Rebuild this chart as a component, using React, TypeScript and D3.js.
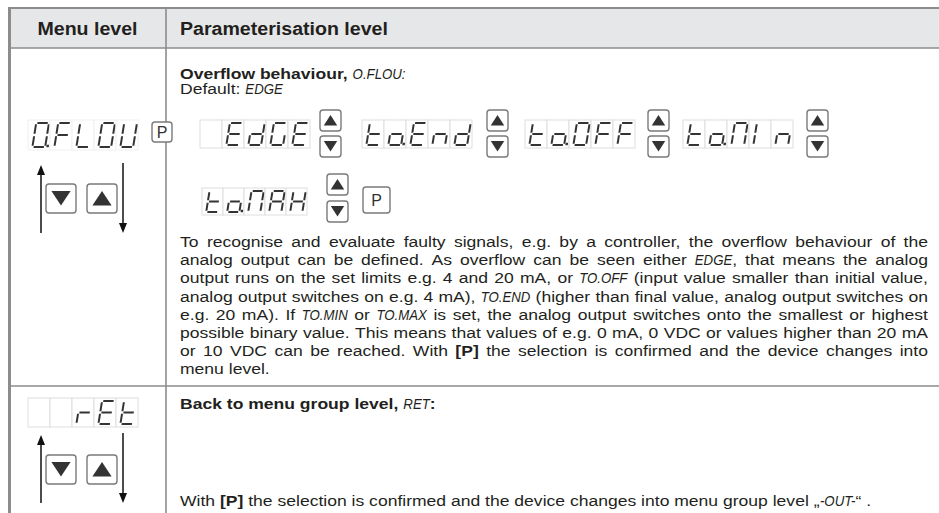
import React, { useEffect, useRef } from "react";
import * as d3 from "d3";

const WIDTH = 939;
const HEIGHT = 513;
// the scanned page is stretched sideways a little, text follows that
const SX = 1.17;
const HEADER_SX = 1.12;

const FONT = "'Liberation Sans', Arial, Helvetica, sans-serif";
const INK = "#231f20";
const RULE = "#8c8c8c";
const SEG_INK = "#333";

const headerLabels = ["Menu level", "Parameterisation level"];

// seven segment displays, one entry per digit cell ("." = decimal point)
const menuOverflow = ["0.", "F", "L", "0", "U"];
const menuReturn = ["", "", "r", "E", "t"];
const optionsRow1 = [
  ["", "E", "d", "G", "E"],
  ["t", "o.", "E", "n", "d"],
  ["t", "o.", "0", "F", "F"],
  ["t", "o.", "M", "I", "n"],
];
const optionsRow2 = [["t", "o.", "M", "A", "H"]];

// ^bold^  ~display font~
const overflowTitle = "^Overflow behaviour,^ ~O.FLOU:~";
const overflowDefault = "Default: ~EDGE~";
const overflowText = [
  "To recognise and evaluate faulty signals, e.g. by a controller, the overflow behaviour of the",
  "analog output can be defined. As overflow can be seen either ~EDGE~, that means the analog",
  "output runs on the set limits e.g. 4 and 20 mA, or ~TO.OFF~ (input value smaller than initial value,",
  "analog output switches on e.g. 4 mA), ~TO.END~ (higher than final value, analog output switches on",
  "e.g. 20 mA). If ~TO.MIN~ or ~TO.MAX~ is set, the analog output switches onto the smallest or highest",
  "possible binary value. This means that values of e.g. 0 mA, 0 VDC or values higher than 20 mA",
  "or 10 VDC can be reached. With ^[P]^ the selection is confirmed and the device changes into",
  "menu level.",
];
const returnTitle = "^Back to menu group level,^ ~RET~^:^";
const returnText = "With ^[P]^ the selection is confirmed and the device changes into menu group level \u201E~-OUT-~\u201C .";

const SEGMENTS: Record<string, string> = {
  "0": "abcdef", F: "aefg", L: "def", U: "bcdef", E: "adefg", d: "bcdeg",
  G: "acdef", t: "defg", o: "cdeg", n: "ceg", M: "abcef", I: "ef",
  A: "abcefg", H: "bcefg", r: "eg",
};

type Style = "reg" | "bold" | "din";
type Run = { text: string; style: Style };

const STYLES: Record<Style, { size: number; weight: string; italic: boolean; sx: number }> = {
  reg: { size: 15, weight: "normal", italic: false, sx: 1 },
  bold: { size: 15, weight: "bold", italic: false, sx: 1 },
  din: { size: 14.5, weight: "normal", italic: true, sx: 0.78 },
};

function parseRuns(s: string): Run[] {
  const runs: Run[] = [];
  let style: Style = "reg";
  let buf = "";
  for (const ch of s) {
    if (ch === "^" || ch === "~") {
      if (buf) runs.push({ text: buf, style });
      buf = "";
      const target: Style = ch === "^" ? "bold" : "din";
      style = style === target ? "reg" : target;
    } else buf += ch;
  }
  if (buf) runs.push({ text: buf, style });
  return runs;
}

const ctx = typeof document !== "undefined" ? document.createElement("canvas").getContext("2d") : null;
function measure(r: Run) {
  const s = STYLES[r.style];
  if (!ctx) return r.text.length * 7 * s.sx;
  ctx.font = `${s.italic ? "italic " : ""}${s.weight === "bold" ? "bold " : ""}${s.size}px ${FONT}`;
  return ctx.measureText(r.text).width * s.sx;
}

type G = d3.Selection<SVGGElement, unknown, null, undefined>;

// draws runs one after another from x0 in a (scaled) line group, returns the width
function drawRuns(lg: G, runs: Run[], x0: number) {
  let cx = x0;
  runs.forEach(r => {
    const s = STYLES[r.style];
    lg.append("text")
      .attr("transform", `translate(${cx},0) scale(${s.sx},1)`)
      .attr("font-family", FONT)
      .attr("font-size", s.size)
      .attr("font-weight", s.weight)
      .attr("font-style", s.italic ? "italic" : "normal")
      .attr("fill", INK)
      .style("white-space", "pre")
      .text(r.text);
    cx += measure(r);
  });
  return cx - x0;
}

function drawRich(g: G, s: string, x: number, y: number) {
  const lg = g.append("g").attr("transform", `translate(${x},${y}) scale(${SX},1)`);
  drawRuns(lg, parseRuns(s), 0);
}

function drawJustified(g: G, lines: string[], x: number, y0: number, right: number, lineH: number) {
  const width = (right - x) / SX;
  lines.forEach((line, li) => {
    const words = line.split(" ").map(parseRuns);
    const widths = words.map(runs => d3.sum(runs, r => measure(r)));
    const total = d3.sum(widths);
    const last = li === lines.length - 1;
    const gap = last || words.length < 2 ? measure({ text: " ", style: "reg" }) : (width - total) / (words.length - 1);
    const lg = g.append("g").attr("transform", `translate(${x},${y0 + li * lineH}) scale(${SX},1)`);
    let cx = 0;
    words.forEach((runs, i) => {
      drawRuns(lg, runs, cx);
      cx += widths[i] + gap;
    });
  });
}

function drawDisplay(g: G, cells: string[], x0: number, y0: number, border: string, cw = 22, ch = 28) {
  const seg = d3.line();
  cells.forEach((cell, i) => {
    const cx = x0 + i * cw;
    g.append("rect")
      .attr("x", cx).attr("y", y0).attr("width", cw).attr("height", ch)
      .attr("fill", "white").attr("stroke", border).attr("stroke-width", 1);
    const key = cell.replace(".", "");
    if (!key && !cell.includes(".")) return;
    const gw = cw * 0.58, gh = ch - 6, s = 1.2;
    const gl = g.append("g").attr("transform", `translate(${cx + cw * 0.2},${y0 + 3 + gh}) skewX(-9)`);
    const pts: Record<string, [number, number][]> = {
      a: [[s, -gh], [gw - s, -gh]],
      b: [[gw, -gh + s], [gw, -gh / 2 - s]],
      c: [[gw, -gh / 2 + s], [gw, -s]],
      d: [[s, 0], [gw - s, 0]],
      e: [[0, -gh / 2 + s], [0, -s]],
      f: [[0, -gh + s], [0, -gh / 2 - s]],
      g: [[s, -gh / 2], [gw - s, -gh / 2]],
    };
    (SEGMENTS[key] || "").split("").forEach(k => {
      gl.append("path").attr("d", seg(pts[k])).attr("stroke", SEG_INK).attr("stroke-width", 2).attr("fill", "none");
    });
    if (cell.includes(".")) {
      gl.append("rect").attr("x", gw + 1.2).attr("y", -2.2).attr("width", 2.4).attr("height", 2.4).attr("fill", SEG_INK);
    }
  });
}

function drawButton(g: G, x: number, y: number, w: number, h: number, kind: "up" | "down" | "P") {
  g.append("rect")
    .attr("x", x).attr("y", y).attr("width", w).attr("height", h).attr("rx", 3)
    .attr("fill", "white").attr("stroke", "#7a7a7a").attr("stroke-width", 1.4);
  const cx = x + w / 2;
  if (kind === "P") {
    g.append("text").attr("x", cx).attr("y", y + h / 2 + 5.5).attr("text-anchor", "middle")
      .attr("font-family", FONT).attr("font-size", 16).attr("fill", "#333").text("P");
    return;
  }
  const top = y + h * 0.24, bot = y + h * 0.74, hw = w * 0.32;
  const tri: [number, number][] = kind === "up"
    ? [[cx, top], [cx - hw, bot], [cx + hw, bot]]
    : [[cx - hw, top], [cx + hw, top], [cx, bot]];
  g.append("path").attr("d", d3.line()(tri) + "Z").attr("fill", "#333");
}

function drawUpDown(g: G, x: number, y: number, gap: number) {
  drawButton(g, x, y, 21, 21, "up");
  drawButton(g, x, y + 21 + gap, 21, 21, "down");
}

function drawMenuArrows(g: G, top: number, bottom: number, btnY: number) {
  const head = (x: number, tipY: number, dir: number) =>
    g.append("path").attr("d", d3.line()([[x, tipY], [x - 4, tipY - dir * 10], [x + 4, tipY - dir * 10]]) + "Z").attr("fill", "#111");
  g.append("line").attr("x1", 41).attr("x2", 41).attr("y1", top + 6).attr("y2", bottom).attr("stroke", "#111").attr("stroke-width", 1.5);
  head(41, top, -1);
  g.append("line").attr("x1", 123).attr("x2", 123).attr("y1", top - 2).attr("y2", bottom - 6).attr("stroke", "#111").attr("stroke-width", 1.5);
  head(123, bottom, 1);
  drawButton(g, 46, btnY, 30, 29, "down");
  drawButton(g, 87, btnY, 30, 29, "up");
}

export default function App() {
  const svgRef = useRef<SVGSVGElement>(null);

  useEffect(() => {
    if (!svgRef.current) return;
    const svg = d3.select(svgRef.current);
    svg.selectAll("*").remove();
    const g = svg.append("g") as unknown as G;

    // table frame
    g.append("rect").attr("x", 9).attr("y", 8).attr("width", WIDTH - 9).attr("height", 40).attr("fill", "#e6e7e8");
    g.append("line").attr("x1", 9).attr("x2", WIDTH).attr("y1", 8).attr("y2", 8).attr("stroke", RULE).attr("stroke-width", 2);
    g.append("line").attr("x1", 9).attr("x2", WIDTH).attr("y1", 48).attr("y2", 48).attr("stroke", RULE).attr("stroke-width", 1.6);
    g.append("line").attr("x1", 9).attr("x2", WIDTH).attr("y1", 386).attr("y2", 386).attr("stroke", RULE).attr("stroke-width", 1.6);
    g.append("line").attr("x1", 166).attr("x2", 166).attr("y1", 8).attr("y2", HEIGHT).attr("stroke", RULE).attr("stroke-width", 1.6);
    g.append("line").attr("x1", 9.5).attr("x2", 9.5).attr("y1", 7).attr("y2", HEIGHT).attr("stroke", RULE).attr("stroke-width", 3);

    // header
    const hs = 17.5;
    g.append("text").attr("transform", `translate(87.5,35) scale(${HEADER_SX},1)`).attr("text-anchor", "middle")
      .attr("font-family", FONT).attr("font-weight", "bold").attr("font-size", hs).attr("fill", INK).text(headerLabels[0]);
    g.append("text").attr("transform", `translate(180,35) scale(${HEADER_SX},1)`)
      .attr("font-family", FONT).attr("font-weight", "bold").attr("font-size", hs).attr("fill", INK).text(headerLabels[1]);

    // row 1: overflow behaviour
    drawDisplay(g, menuOverflow, 28, 120, "#f0f0f0", 22, 30);
    drawButton(g, 152, 122, 20, 20, "P");
    drawMenuArrows(g, 165, 233, 184);

    drawRich(g, overflowTitle, 180, 79);
    drawRich(g, overflowDefault, 180, 94);

    const row1X = [200, 362, 525, 683];
    const row1Btn = [320, 487, 648, 807];
    optionsRow1.forEach((cells, i) => {
      drawDisplay(g, cells, row1X[i], 120, "#dedede");
      drawUpDown(g, row1Btn[i], 110, 5);
    });
    optionsRow2.forEach(cells => {
      drawDisplay(g, cells, 202, 188, "#dedede", 21, 27);
      drawUpDown(g, 327, 174, 6);
    });
    drawButton(g, 363, 187, 27, 26, "P");

    drawJustified(g, overflowText, 180, 247, 928, 18.2);

    // row 2: return
    drawDisplay(g, menuReturn, 28, 398, "#dedede", 22, 29);
    drawMenuArrows(g, 435, 503, 455);
    drawRich(g, returnTitle, 180, 409);
    drawRich(g, returnText, 180, 506);
  }, []);

  return (
    <svg
      ref={svgRef}
      width={WIDTH}
      height={HEIGHT}
      style={{ position: "absolute", left: 0, top: 0, background: "white", display: "block" }}
    />
  );
}
